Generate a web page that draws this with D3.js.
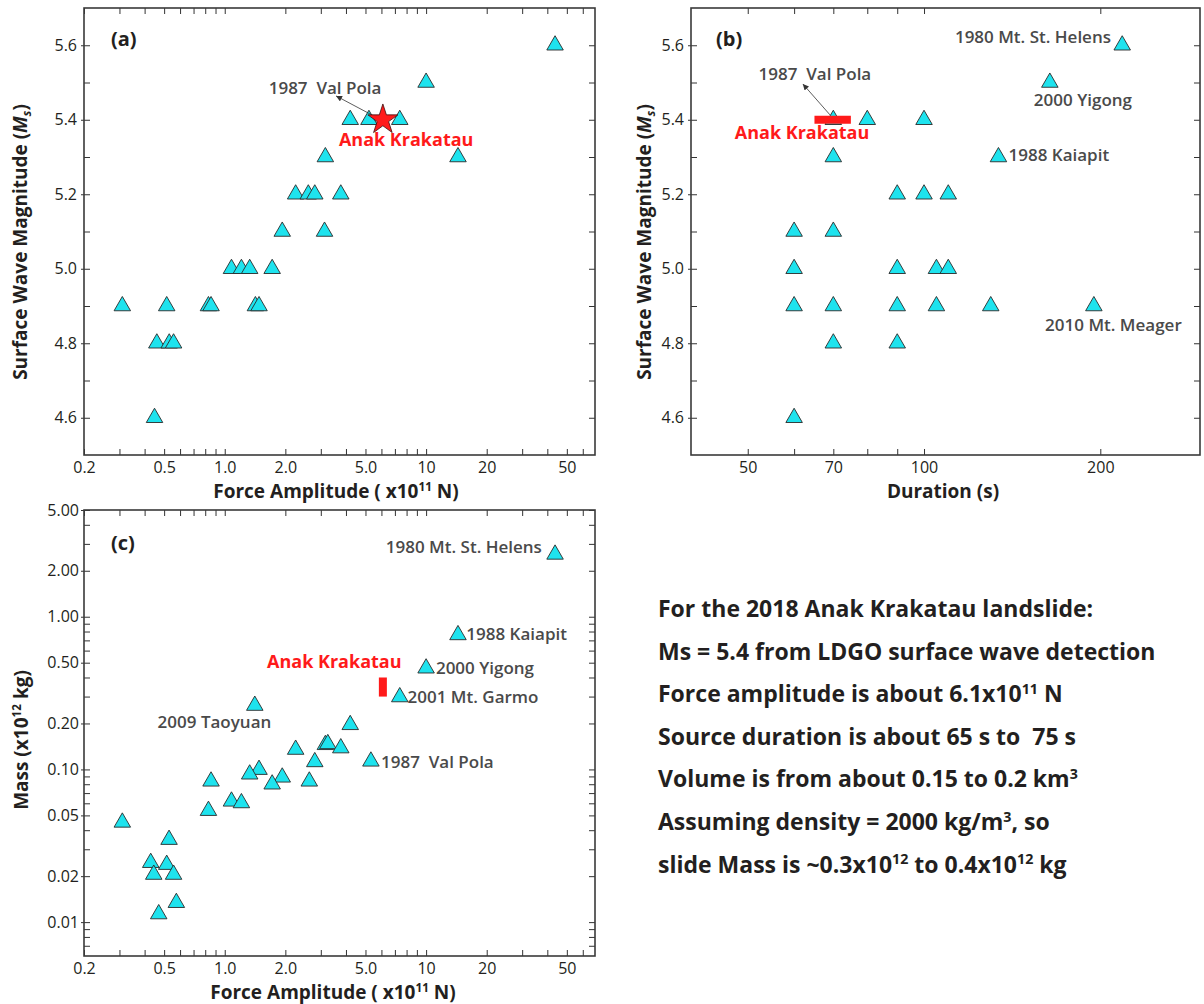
<!DOCTYPE html>
<html>
<head>
<meta charset="utf-8">
<script src="https://cdn.jsdelivr.net/npm/d3@7"></script>
<style>
  body { margin: 0; background: #fff; }
  svg { display: block; }
</style>
</head>
<body>
<script>
// Panel (a): force amplitude (x10^11 N) vs surface wave magnitude
const forceA = [43.7, 10.0, 4.2, 5.2, 7.4, 3.16, 14.4, 2.25, 2.6, 2.8, 3.77, 1.93, 3.13,
  1.08, 1.21, 1.33, 1.72, 0.31, 0.515, 0.83, 0.855, 1.42, 1.48, 0.46, 0.53, 0.557, 0.448];
const msA = [5.6, 5.5, 5.4, 5.4, 5.4, 5.3, 5.3, 5.2, 5.2, 5.2, 5.2, 5.1, 5.1,
  5.0, 5.0, 5.0, 5.0, 4.9, 4.9, 4.9, 4.9, 4.9, 4.9, 4.8, 4.8, 4.8, 4.6];

// Panel (b): duration (s) vs surface wave magnitude
const durationB = [218, 164, 70, 80, 100, 70, 134, 90, 100, 110, 60, 70,
  60, 90, 105, 110, 60, 70, 90, 105, 130, 195, 70, 90, 60];
const msB = [5.6, 5.5, 5.4, 5.4, 5.4, 5.3, 5.3, 5.2, 5.2, 5.2, 5.1, 5.1,
  5.0, 5.0, 5.0, 5.0, 4.9, 4.9, 4.9, 4.9, 4.9, 4.9, 4.8, 4.8, 4.6];

// Panel (c): force amplitude vs mass (x10^12 kg)
const forceC = [43.7, 14.4, 10.0, 7.4, 1.41, 4.2, 3.16, 3.25, 3.77, 2.25, 5.32, 2.8, 1.48, 1.33,
  1.93, 0.855, 2.63, 1.72, 1.08, 1.21, 0.83, 0.31, 0.529, 0.429, 0.515, 0.444, 0.557, 0.575, 0.47];
const massC = [2.56, 0.76, 0.46, 0.298, 0.262, 0.196, 0.145, 0.147, 0.138, 0.135, 0.113, 0.112, 0.0997, 0.093,
  0.0888, 0.0836, 0.0836, 0.080, 0.0618, 0.0603, 0.0537, 0.045, 0.0347, 0.0245, 0.0238, 0.0205, 0.0205, 0.0134, 0.0113];

// Anak Krakatau estimate
const krakForce = 6.1;
const krakMs = 5.4;
const krakDuration = [65, 75];
const krakMass = [0.3, 0.4];

// tick labels
const forceTickLabels = ["0.2", "0.5", "1.0", "2.0", "5.0", "10", "20", "50"];
const forceMinorTicks = [0.3, 0.4, 0.6, 0.7, 0.8, 0.9, 3, 4, 6, 7, 8, 9, 30, 40, 60];
const msTickLabels = ["4.6", "4.8", "5.0", "5.2", "5.4", "5.6"];
const msMinorTicks = [4.7, 4.9, 5.1, 5.3, 5.5];
const durationTickLabels = ["50", "70", "100", "200"];
const durationMinorTicks = [60, 80, 90];
const massTickLabels = ["0.01", "0.02", "0.05", "0.10", "0.20", "0.50", "1.00", "2.00", "5.00"];
const massMinorTicks = [0.007, 0.008, 0.009, 0.03, 0.04, 0.06, 0.07, 0.08, 0.09,
  0.3, 0.4, 0.6, 0.7, 0.8, 0.9, 3, 4];

// event labels [text, x, y, anchor]
const labelsB = [
  ["1980 Mt. St. Helens", 208.6, 5.606, "end"],
  ["2000 Yigong", 186.8, 5.437, "middle"],
  ["1988 Kaiapit", 139.4, 5.289, "start"],
  ["2010 Mt. Meager", 210.6, 4.833, "middle"]
];
const labelsC = [
  ["1980 Mt. St. Helens", 37.6, 2.62, "end"],
  ["1988 Kaiapit", 15.84, 0.704, "start"],
  ["2000 Yigong", 11.19, 0.4217, "start"],
  ["2001 Mt. Garmo", 8.09, 0.2723, "start"],
  ["2009 Taoyuan", 0.889, 0.1868, "middle"],
  ["1987  Val Pola", 5.97, 0.1022, "start"]
];

const noteLines = [
  [["For the 2018 Anak Krakatau landslide:"]],
  [["Ms = 5.4 from LDGO surface wave detection"]],
  [["Force amplitude is about 6.1x10"], ["11", "sup"], [" N"]],
  [["Source duration is about 65 s to  75 s"]],
  [["Volume is from about 0.15 to 0.2 km"], ["3", "sup"]],
  [["Assuming density = 2000 kg/m"], ["3", "sup"], [", so"]],
  [["slide Mass is ~0.3x10"], ["12", "sup"], [" to 0.4x10"], ["12", "sup"], [" kg"]]
];

const FONT = "'Open Sans', 'Noto Sans', sans-serif";
const INK = "#231f20";
const GREY = "#4a4a4a";
const RED = "#ff1a1a";
const CYAN = "#1ee3ee";

// keep double spaces visible in svg text
const keepSpaces = s => s.replace(/  /g, " \u00a0");

const svg = d3.select("body").append("svg")
  .attr("width", 1204)
  .attr("height", 1004)
  .style("font-family", FONT);

svg.append("defs").append("marker")
  .attr("id", "arrow")
  .attr("viewBox", "0 0 10 10")
  .attr("refX", 10).attr("refY", 5)
  .attr("markerUnits", "userSpaceOnUse")
  .attr("markerWidth", 7).attr("markerHeight", 6)
  .attr("orient", "auto")
  .append("path").attr("d", "M0,0L10,5L0,10z").attr("fill", "#333");

// scales
const xA = d3.scaleLog().domain([0.2, 69]).range([84, 595]);
const yA = d3.scaleLinear().domain([4.5, 5.7]).range([455, 8]);
const xB = d3.scaleLog().domain([40, 296]).range([691, 1200]);
const yB = d3.scaleLinear().domain([4.5, 5.7]).range([455, 8]);
const xC = d3.scaleLog().domain([0.2, 69]).range([84, 595]);
const yC = d3.scaleLog().domain([0.006, 5]).range([956, 510]);

const triangle = d3.symbol(d3.symbolTriangle, 118);

// writes text with superscript / subscript / italic pieces
function rich(text, parts, size) {
  let shift = 0;
  parts.forEach(([str, kind]) => {
    const t = text.append("tspan").text(keepSpaces(str));
    const target = kind === "sup" ? -0.36 * size : kind === "sub" ? 0.22 * size : 0;
    if (target !== shift) t.attr("dy", target - shift);
    shift = target;
    if (kind === "sup" || kind === "sub") t.attr("font-size", size * 0.62);
    if (kind === "it" || kind === "sub") t.attr("font-style", "italic");
  });
}

function styleAxis(g, size) {
  g.attr("font-family", FONT).attr("font-size", size);
  g.select(".domain").remove();
  g.selectAll(".tick line").attr("stroke", "#333").attr("stroke-width", 1);
  g.selectAll(".tick text").attr("fill", INK);
}

function frame(x, y, xLabels, xMinor, yLabels, yMinor, yPad) {
  const [x0, x1] = x.range();
  const [y0, y1] = y.range();
  const xl = new Map(xLabels.map(s => [+s, s]));
  const yl = new Map(yLabels.map(s => [+s, s]));
  const xv = [...xl.keys(), ...xMinor];
  const yv = [...yl.keys(), ...yMinor];
  const g = svg.append("g");

  g.append("g").attr("transform", `translate(0,${y0})`)
    .call(d3.axisBottom(x).tickValues(xv).tickSizeInner(-6).tickSizeOuter(0)
      .tickPadding(7).tickFormat(d => xl.get(d) || ""))
    .call(a => styleAxis(a, 16));
  g.append("g").attr("transform", `translate(0,${y1})`)
    .call(d3.axisTop(x).tickValues(xv).tickSizeInner(-6).tickSizeOuter(0).tickFormat(""))
    .call(a => styleAxis(a, 16));
  g.append("g").attr("transform", `translate(${x0},0)`)
    .call(d3.axisLeft(y).tickValues(yv).tickSizeInner(-6).tickSizeOuter(0)
      .tickPadding(yPad).tickFormat(d => yl.get(d) || ""))
    .call(a => styleAxis(a, 16))
    .call(a => a.selectAll(".tick line").filter(d => yl.has(d)).attr("x1", -3));
  g.append("g").attr("transform", `translate(${x1},0)`)
    .call(d3.axisRight(y).tickValues(yv).tickSizeInner(-6).tickSizeOuter(0).tickFormat(""))
    .call(a => styleAxis(a, 16));

  g.append("rect")
    .attr("x", x0).attr("y", y1)
    .attr("width", x1 - x0).attr("height", y0 - y1)
    .attr("fill", "none").attr("stroke", "#3a3a3a").attr("stroke-width", 1.6);
  return g;
}

function triangles(xs, ys, x, y) {
  svg.append("g").selectAll("path")
    .data(d3.zip(xs, ys))
    .join("path")
    .attr("d", triangle)
    .attr("transform", d => `translate(${x(d[0])},${y(d[1])})`)
    .attr("fill", CYAN)
    .attr("stroke", "#2a2a2a")
    .attr("stroke-width", 0.9);
}

function greyLabel(text, xv, yv, anchor) {
  svg.append("text")
    .attr("x", xv).attr("y", yv)
    .attr("text-anchor", anchor)
    .attr("font-size", 17)
    .attr("font-weight", 600)
    .attr("fill", GREY)
    .text(keepSpaces(text));
}

function eventLabels(list, x, y) {
  list.forEach(d => greyLabel(d[0], x(d[1]), y(d[2]), d[3]));
}

function redLabel(text, xv, yv, anchor) {
  svg.append("text")
    .attr("x", xv).attr("y", yv)
    .attr("text-anchor", anchor)
    .attr("font-size", 18)
    .attr("font-weight", 700)
    .attr("fill", RED)
    .text(text);
}

function arrow(x, y, from, to) {
  svg.append("line")
    .attr("x1", x(from[0])).attr("y1", y(from[1]))
    .attr("x2", x(to[0])).attr("y2", y(to[1]))
    .attr("stroke", "#333").attr("stroke-width", 0.8)
    .attr("marker-end", "url(#arrow)");
}

function panelLetter(text, px, py) {
  svg.append("text").attr("x", px).attr("y", py)
    .attr("font-size", 20).attr("font-weight", 700).attr("fill", INK)
    .text(text);
}

function xTitle(parts, cx, cy) {
  const t = svg.append("text").attr("x", cx).attr("y", cy)
    .attr("text-anchor", "middle").attr("font-size", 19)
    .attr("font-weight", 700).attr("fill", INK);
  rich(t, parts, 19);
}

function yTitle(parts, cx, cy) {
  const t = svg.append("text")
    .attr("transform", `translate(${cx},${cy}) rotate(-90)`)
    .attr("text-anchor", "middle").attr("font-size", 19)
    .attr("font-weight", 700).attr("fill", INK);
  rich(t, parts, 19);
}

// ---------- (a) ----------
frame(xA, yA, forceTickLabels, forceMinorTicks, msTickLabels, msMinorTicks, 7);
triangles(forceA, msA, xA, yA);
arrow(xA, yA, [5.64, 5.407], [3.57, 5.464]);
greyLabel("1987  Val Pola", xA(3.15), yA(5.469), "middle");
svg.append("path")
  .attr("d", d3.symbol(d3.symbolStar, 280))
  .attr("transform", `translate(${xA(krakForce)},${yA(krakMs)})`)
  .attr("fill", RED).attr("stroke", "#3a1010").attr("stroke-width", 0.8);
redLabel("Anak Krakatau", xA(3.69), yA(5.3295), "start");
panelLetter("(a)", 111, 46);
xTitle([["Force Amplitude ( x10"], ["11", "sup"], [" N)"]], 336, 498);
yTitle([["Surface Wave Magnitude ("], ["M", "it"], ["s", "sub"], [")"]], 27, 242);

// ---------- (b) ----------
frame(xB, yB, durationTickLabels, durationMinorTicks, msTickLabels, msMinorTicks, 7);
triangles(durationB, msB, xB, yB);
svg.append("rect")
  .attr("x", xB(krakDuration[0]))
  .attr("y", yB(krakMs) - 4)
  .attr("width", xB(krakDuration[1]) - xB(krakDuration[0]))
  .attr("height", 8)
  .attr("fill", RED);
arrow(xB, yB, [69.1, 5.413], [62.1, 5.496]);
greyLabel("1987  Val Pola", xB(65.1), yB(5.507), "middle");
redLabel("Anak Krakatau", xB(61.9), yB(5.349), "middle");
eventLabels(labelsB, xB, yB);
panelLetter("(b)", 716, 46);
xTitle([["Duration (s)"]], 943, 498);
yTitle([["Surface Wave Magnitude ("], ["M", "it"], ["s", "sub"], [")"]], 651, 242);

// ---------- (c) ----------
frame(xC, yC, forceTickLabels, forceMinorTicks, massTickLabels, massMinorTicks, 5);
triangles(forceC, massC, xC, yC);
svg.append("rect")
  .attr("x", xC(krakForce) - 4)
  .attr("y", yC(krakMass[1]))
  .attr("width", 8)
  .attr("height", yC(krakMass[0]) - yC(krakMass[1]))
  .attr("fill", RED);
redLabel("Anak Krakatau", xC(3.5), yC(0.4616), "middle");
eventLabels(labelsC, xC, yC);
panelLetter("(c)", 111, 550);
xTitle([["Force Amplitude ( x10"], ["11", "sup"], [" N)"]], 333, 999);
yTitle([["Mass (x10"], ["12", "sup"], [" kg)"]], 28, 740);

// ---------- notes ----------
const notes = svg.append("g").attr("fill", INK).attr("font-weight", 700).attr("font-size", 23);
noteLines.forEach((parts, i) => {
  const t = notes.append("text").attr("x", 658).attr("y", 617 + i * 42.6);
  rich(t, parts, 23);
});
</script>
</body>
</html>
